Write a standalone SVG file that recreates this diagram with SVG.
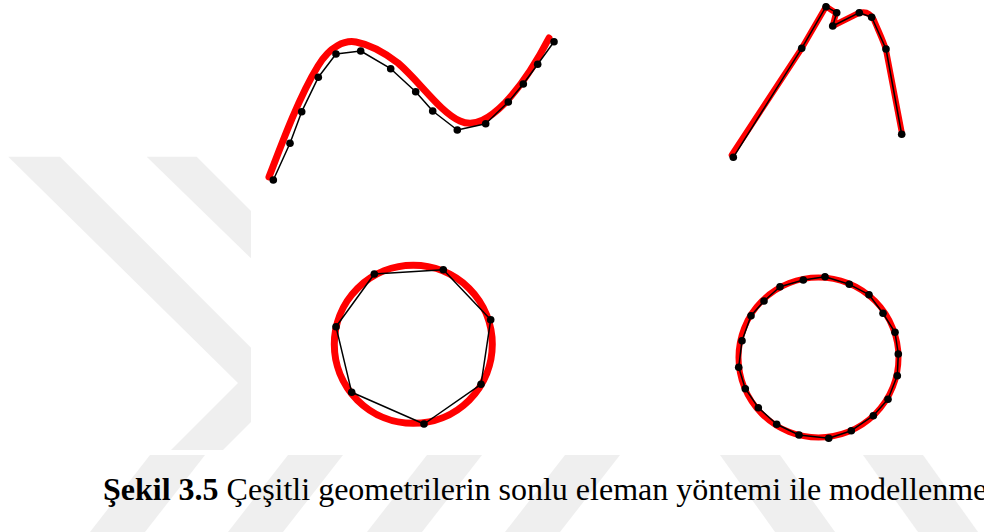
<svg xmlns="http://www.w3.org/2000/svg" width="984" height="532" viewBox="0 0 984 532">
<style>
.wm{fill:#efefef}
.red{fill:none;stroke:#ff0000;stroke-linejoin:round;stroke-linecap:round}
.mesh{fill:none;stroke:#000;stroke-width:1.5;stroke-linejoin:round}
.dot{fill:#000}
.cap{font-family:"Liberation Serif","Times New Roman",serif;font-size:32px;fill:#000}
</style>
<defs>
<circle id="d" r="3.8" class="dot"/>
</defs>
<rect width="984" height="532" fill="#fff"/>
<g id="watermark">
<polygon class="wm" points="8.3,156.7 60,156.7 251,347.7 251,422 223,450 171,450 238,383"/>
<polygon class="wm" points="146.7,156.7 196.7,156.7 251,211 251,258.3"/>
<polygon class="wm" points="150,455 205,455 145,532 90,532"/>
<polygon class="wm" points="288,455 343,455 283,532 228,532"/>
<polygon class="wm" points="427,455 482,455 422,532 367,532"/>
<polygon class="wm" points="565,455 620,455 560,532 505,532"/>
<polygon class="wm" points="720,455 780,455 835,532 775,532"/>
<polygon class="wm" points="863,455 923,455 978,532 918,532"/>
</g>
<g id="curve-coarse">
<path class="red" stroke-width="7" d="M269,177 C283,140 300,95 318,66 C330,46 345,40 356,42 C372,45 385,53 398,63 C420,82 440,112 460,121 C475,128 490,118 505,103 C520,87 536,63 549,38"/>
<polyline class="mesh" points="273.3,180 290,143.3 301.7,111.7 318.3,77.3 336,54 360.7,51 390.7,68.7 415.7,91.7 432.7,111 457.3,130 485.7,123.7 508.3,102 523.3,84 537.7,64.3 554,41.7"/>
<use href="#d" x="273.3" y="180"/><use href="#d" x="290" y="143.3"/><use href="#d" x="301.7" y="111.7"/><use href="#d" x="318.3" y="77.3"/><use href="#d" x="336" y="54"/><use href="#d" x="360.7" y="51"/><use href="#d" x="390.7" y="68.7"/><use href="#d" x="415.7" y="91.7"/><use href="#d" x="432.7" y="111"/><use href="#d" x="457.3" y="130"/><use href="#d" x="485.7" y="123.7"/><use href="#d" x="508.3" y="102"/><use href="#d" x="523.3" y="84"/><use href="#d" x="537.7" y="64.3"/><use href="#d" x="554" y="41.7"/>
</g>
<g id="curve-fine">
<path class="red" stroke-width="6" d="M731.7,155 L801.7,48.3 L826,6.5 L836,13 L832.7,26 L859.3,12.7 C866,11 871,14 874,20 C878,30 884,42 886,50 L901.7,132"/>
<polyline class="mesh" stroke-width="2" points="733.3,157.3 801.7,48.3 826,6.7 836.7,12.7 832.7,26 859.3,12.7 871.7,17.3 886,49 901.7,134.3"/>
<use href="#d" x="733.3" y="157.3"/><use href="#d" x="801.7" y="48.3"/><use href="#d" x="826" y="6.7"/><use href="#d" x="836.7" y="12.7"/><use href="#d" x="832.7" y="26"/><use href="#d" x="859.3" y="12.7"/><use href="#d" x="871.7" y="17.3"/><use href="#d" x="886" y="49"/><use href="#d" x="901.7" y="134.3"/>
</g>
<g id="circle-coarse">
<circle class="red" cx="413.3" cy="344.3" r="79" stroke-width="7"/>
<polygon class="mesh" points="374.3,274 443.3,269.7 490.7,319.7 481,384.3 424,424 351.7,392.3 336,326.7"/>
<use href="#d" x="374.3" y="274"/><use href="#d" x="443.3" y="269.7"/><use href="#d" x="490.7" y="319.7"/><use href="#d" x="481" y="384.3"/><use href="#d" x="424" y="424"/><use href="#d" x="351.7" y="392.3"/><use href="#d" x="336" y="326.7"/>
</g>
<g id="circle-fine">
<circle class="red" cx="818.5" cy="357.5" r="80" stroke-width="6"/>
<polygon class="mesh" stroke-width="2" points="825,276.7 803.3,280 780,286.7 764,301 751,315.7 742,340.7 738.7,367.3 745.3,388.7 758.3,407.7 776.7,424.3 799,435 828.7,438.3 851.3,430.7 873.3,415.7 888,399.3 897.3,375.7 898.3,354 895,332.3 883,313.3 869,294.7 849.3,284.3"/>
<use href="#d" x="825" y="276.7"/><use href="#d" x="803.3" y="280"/><use href="#d" x="780" y="286.7"/><use href="#d" x="764" y="301"/><use href="#d" x="751" y="315.7"/><use href="#d" x="742" y="340.7"/><use href="#d" x="738.7" y="367.3"/><use href="#d" x="745.3" y="388.7"/><use href="#d" x="758.3" y="407.7"/><use href="#d" x="776.7" y="424.3"/><use href="#d" x="799" y="435"/><use href="#d" x="828.7" y="438.3"/><use href="#d" x="851.3" y="430.7"/><use href="#d" x="873.3" y="415.7"/><use href="#d" x="888" y="399.3"/><use href="#d" x="897.3" y="375.7"/><use href="#d" x="898.3" y="354"/><use href="#d" x="895" y="332.3"/><use href="#d" x="883" y="313.3"/><use href="#d" x="869" y="294.7"/><use href="#d" x="849.3" y="284.3"/>
</g>
<g id="caption">
<text class="cap" x="103" y="500"><tspan font-weight="bold">Şekil 3.5</tspan> Çeşitli geometrilerin sonlu eleman yöntemi ile modellenme</text>
</g>
</svg>
